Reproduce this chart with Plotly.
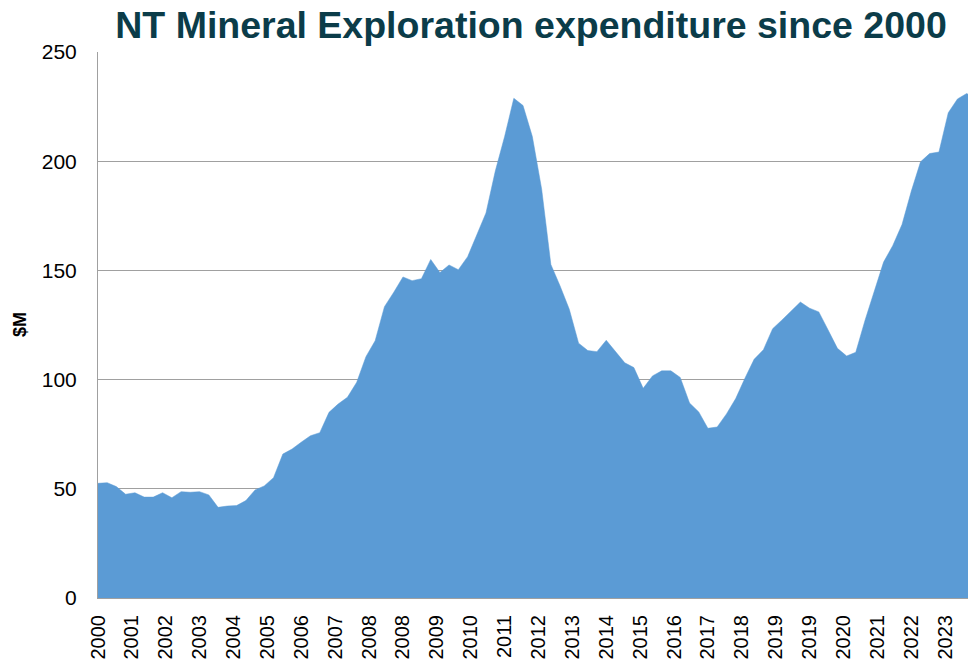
import pandas as pd
import plotly.graph_objects as go

# Quarterly NT mineral exploration expenditure ($M), Sep 2000 .. Jun 2024
start_date = "2000-09-01"
expenditure = [
    52.5, 52.8, 51.0, 47.5, 48.2, 46.2, 46.2, 48.2, 45.9, 48.7,
    48.4, 48.7, 47.2, 41.5, 42.1, 42.3, 44.6, 49.5, 51.3, 55.1,
    65.9, 68.2, 71.3, 74.3, 75.7, 85.0, 88.8, 91.9, 98.8, 110.5,
    117.8, 133.4, 140.0, 147.0, 145.3, 146.2, 155.0, 149.0, 152.5, 150.3,
    156.3, 166.3, 176.3, 195.5, 211.3, 228.8, 225.5, 211.3, 187.2, 152.7,
    143.0, 132.2, 116.7, 113.3, 112.8, 118.0, 112.7, 107.7, 105.5, 96.0,
    101.7, 104.0, 104.0, 101.0, 89.3, 85.2, 77.7, 78.3, 84.3, 91.3,
    100.5, 109.3, 113.7, 123.3, 127.2, 131.3, 135.5, 132.7, 131.0, 122.7,
    114.3, 110.8, 112.5, 127.2, 141.0, 153.8, 161.3, 171.0, 186.3, 199.7,
    203.5, 204.2, 222.2, 228.5, 231.0, 228.8,
]
tick_labels = [
    "2000", "2001", "2002", "2003", "2004", "2005", "2006", "2007", "2008",
    "2008", "2009", "2010", "2011", "2012", "2013", "2014", "2015", "2016",
    "2017", "2018", "2019", "2019", "2020", "2021", "2022", "2023",
]
y_ticks = [0, 50, 100, 150, 200, 250]

dates = pd.date_range(start=start_date, periods=len(expenditure), freq="3MS")
tick_dates = pd.date_range(start=start_date, periods=len(tick_labels), freq="11MS")

# page body has an 8px default margin, so the figure is sized to fill the window
W, H = 968, 654

fig = go.Figure()
fig.add_trace(go.Scatter(
    x=dates, y=expenditure, mode="lines", fill="tozeroy",
    line=dict(color="#5B9BD5", width=0.5), fillcolor="#5B9BD5",
    hoverinfo="x+y", showlegend=False,
))

fig.update_layout(
    width=W, height=H,
    margin=dict(l=90, r=0, t=44, b=64),
    paper_bgcolor="white", plot_bgcolor="white",
    font=dict(family="Liberation Sans, Arial, sans-serif", color="#000000"),
    title=dict(
        text="<b>NT Mineral Exploration expenditure since 2000</b>",
        font=dict(family="Liberation Sans, Arial, sans-serif",
                  size=37.5, color="#0B3C49"),
        x=523 / W, xanchor="center", y=1 - 17 / H, yanchor="middle",
        xref="container", yref="container",
    ),
    xaxis=dict(
        type="date", automargin=False,
        range=[dates[0], dates[-1]],
        tickmode="array", tickvals=tick_dates, ticktext=tick_labels,
        tickangle=-90, tickfont=dict(size=20, color="#000000"),
        showgrid=False, showline=True, linecolor="#A0A0A0", linewidth=1,
        ticks="", ticklabelstandoff=8, zeroline=False,
    ),
    yaxis=dict(
        range=[0, 250], tickvals=y_ticks, automargin=False,
        tickfont=dict(size=21, color="#000000"),
        showgrid=True, gridcolor="#A0A0A0", gridwidth=1,
        showline=True, linecolor="#A0A0A0", linewidth=1,
        ticks="", ticklabelstandoff=16, zeroline=False,
    ),
    annotations=[dict(
        text="<b>$M</b>", textangle=-90, showarrow=False,
        xref="paper", yref="paper", x=-78 / 878, y=0.5,
        xanchor="center", yanchor="middle",
        font=dict(size=18, color="#000000"),
    )],
)

fig.write_html("out.html")
